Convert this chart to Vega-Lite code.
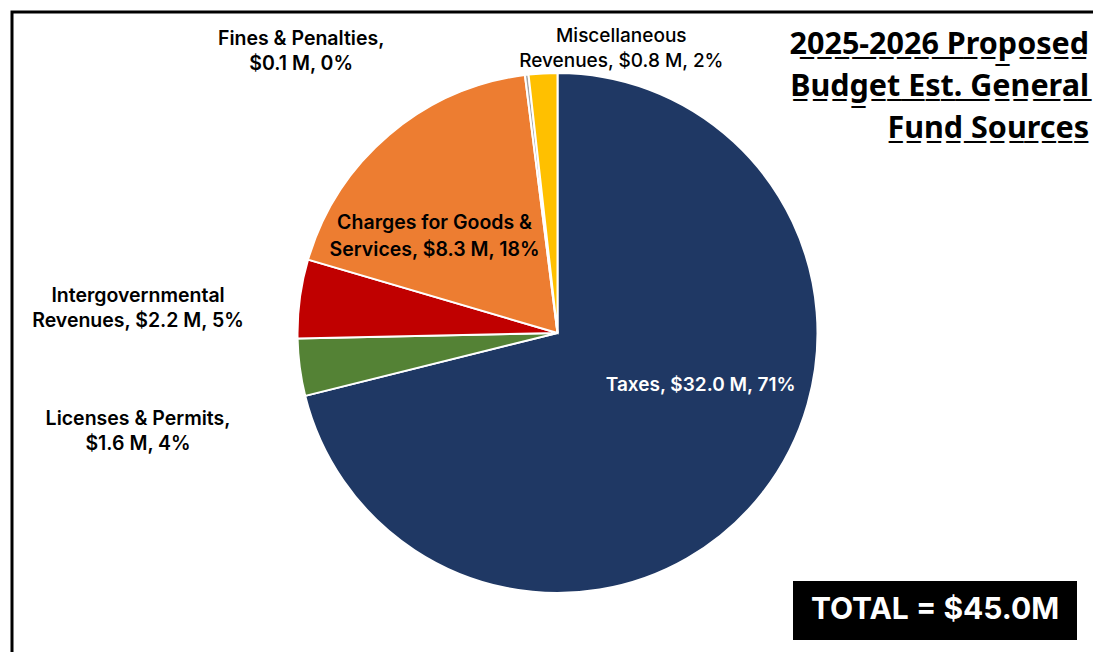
{
  "$schema": "https://vega.github.io/schema/vega-lite/v6.json",
  "width": 1093,
  "height": 652,
  "autosize": {"type": "fit", "contains": "padding"},
  "padding": {"left": 10, "top": 10, "right": -12, "bottom": -4},
  "background": "white",
  "config": {"view": {"stroke": null}, "font": "Inter"},
  "datasets": {
    "sources": [
      {"source": "Taxes", "amount": 32.0, "order": 1, "label": "Taxes, $32.0 M, 71%"},
      {"source": "Licenses & Permits", "amount": 1.6, "order": 2, "label": "Licenses & Permits,\n$1.6 M, 4%"},
      {"source": "Intergovernmental Revenues", "amount": 2.2, "order": 3, "label": "Intergovernmental\nRevenues, $2.2 M, 5%"},
      {"source": "Charges for Goods & Services", "amount": 8.3, "order": 4, "label": "Charges for Goods &\nServices, $8.3 M, 18%"},
      {"source": "Fines & Penalties", "amount": 0.1, "order": 5, "label": "Fines & Penalties,\n$0.1 M, 0%"},
      {"source": "Miscellaneous Revenues", "amount": 0.8, "order": 6, "label": "Miscellaneous\nRevenues, $0.8 M, 2%"}
    ],
    "title": [
      {"t": "2̲0̲2̲5̲-̲2̲0̲2̲6̲ ̲P̲r̲o̲p̲o̲s̲e̲d̲\nB̲u̲d̲g̲e̲t̲ ̲E̲s̲t̲.̲ ̲G̲e̲n̲e̲r̲a̲l̲\nF̲u̲n̲d̲ ̲S̲o̲u̲r̲c̲e̲s̲", "total": "TOTAL = $45.0M"}
    ]
  },
  "layer": [
    {
      "data": {"name": "title"},
      "mark": {"type": "rect", "x": {"expr": "0"}, "x2": {"expr": "width"}, "y": {"expr": "0"}, "y2": {"expr": "height"}, "fill": "white", "stroke": "black", "strokeWidth": 3},
      "encoding": {}
    },
    {
      "data": {"name": "sources"},
      "mark": {"type": "arc", "outerRadius": 260, "stroke": "white", "strokeWidth": 2},
      "encoding": {
        "theta": {"field": "amount", "type": "quantitative", "stack": true},
        "order": {"field": "order", "type": "quantitative"},
        "color": {
          "field": "source", "type": "nominal", "legend": null,
          "scale": {
            "domain": ["Taxes", "Licenses & Permits", "Intergovernmental Revenues", "Charges for Goods & Services", "Fines & Penalties", "Miscellaneous Revenues"],
            "range": ["#1F3864", "#548235", "#C00000", "#ED7D31", "#A5A5A5", "#FFC000"]
          }
        }
      }
    },
    {
      "data": {"name": "sources"},
      "mark": {"type": "text", "radius": 155, "dx": 21, "dy": -43, "fill": "white", "fontSize": 19, "fontWeight": 600, "align": "center", "baseline": "middle", "lineBreak": "\n", "lineHeight": 25},
      "encoding": {
        "theta": {"field": "amount", "type": "quantitative", "stack": true},
        "order": {"field": "order", "type": "quantitative"},
        "text": {"condition": {"test": "datum.source === 'Taxes'", "field": "label"}, "value": ""}
      }
    },
    {
      "data": {"name": "sources"},
      "mark": {"type": "text", "radius": 165, "dx": -16, "dy": 16, "fill": "black", "fontSize": 19.5, "fontWeight": 600, "align": "center", "baseline": "middle", "lineBreak": "\n", "lineHeight": 27},
      "encoding": {
        "theta": {"field": "amount", "type": "quantitative", "stack": true},
        "order": {"field": "order", "type": "quantitative"},
        "text": {"condition": {"test": "datum.source === 'Charges for Goods & Services'", "field": "label"}, "value": ""}
      }
    },
    {
      "data": {"name": "sources"},
      "mark": {"type": "text", "radius": 290, "dx": 80, "dy": -7, "fill": "black", "fontSize": 19, "fontWeight": 500, "align": "center", "baseline": "middle", "lineBreak": "\n", "lineHeight": 25},
      "encoding": {
        "theta": {"field": "amount", "type": "quantitative", "stack": true},
        "order": {"field": "order", "type": "quantitative"},
        "text": {"condition": {"test": "datum.source === 'Miscellaneous Revenues'", "field": "label"}, "value": ""}
      }
    },
    {
      "data": {"name": "sources"},
      "mark": {"type": "text", "radius": 290, "dx": -222, "dy": -6, "fill": "black", "fontSize": 19.5, "fontWeight": 600, "align": "center", "baseline": "middle", "lineBreak": "\n", "lineHeight": 25},
      "encoding": {
        "theta": {"field": "amount", "type": "quantitative", "stack": true},
        "order": {"field": "order", "type": "quantitative"},
        "text": {"condition": {"test": "datum.source === 'Fines & Penalties'", "field": "label"}, "value": ""}
      }
    },
    {
      "data": {"name": "sources"},
      "mark": {"type": "text", "radius": 290, "dx": -132, "dy": 1, "fill": "black", "fontSize": 19.5, "fontWeight": 600, "align": "center", "baseline": "middle", "lineBreak": "\n", "lineHeight": 25},
      "encoding": {
        "theta": {"field": "amount", "type": "quantitative", "stack": true},
        "order": {"field": "order", "type": "quantitative"},
        "text": {"condition": {"test": "datum.source === 'Intergovernmental Revenues'", "field": "label"}, "value": ""}
      }
    },
    {
      "data": {"name": "sources"},
      "mark": {"type": "text", "radius": 290, "dx": -132, "dy": 48, "fill": "black", "fontSize": 19.5, "fontWeight": 600, "align": "center", "baseline": "middle", "lineBreak": "\n", "lineHeight": 25},
      "encoding": {
        "theta": {"field": "amount", "type": "quantitative", "stack": true},
        "order": {"field": "order", "type": "quantitative"},
        "text": {"condition": {"test": "datum.source === 'Licenses & Permits'", "field": "label"}, "value": ""}
      }
    },
    {
      "data": {"name": "title"},
      "mark": {"type": "text", "x": {"expr": "width - 14"}, "y": {"expr": "33"}, "align": "right", "baseline": "middle", "font": "Noto Sans", "fontSize": 30.5, "fontWeight": 700, "fill": "black", "lineBreak": "\n", "lineHeight": 42},
      "encoding": {"text": {"field": "t"}}
    },
    {
      "data": {"name": "title"},
      "mark": {"type": "rect", "x": {"expr": "width - 310"}, "x2": {"expr": "width - 26"}, "y": {"expr": "height - 73"}, "y2": {"expr": "height - 14"}, "fill": "black"},
      "encoding": {}
    },
    {
      "data": {"name": "title"},
      "mark": {"type": "text", "font": "Inter", "x": {"expr": "width - 168"}, "y": {"expr": "height - 44"}, "align": "center", "baseline": "middle", "fontSize": 30, "fontWeight": 700, "fill": "white"},
      "encoding": {"text": {"field": "total"}}
    }
  ]
}
